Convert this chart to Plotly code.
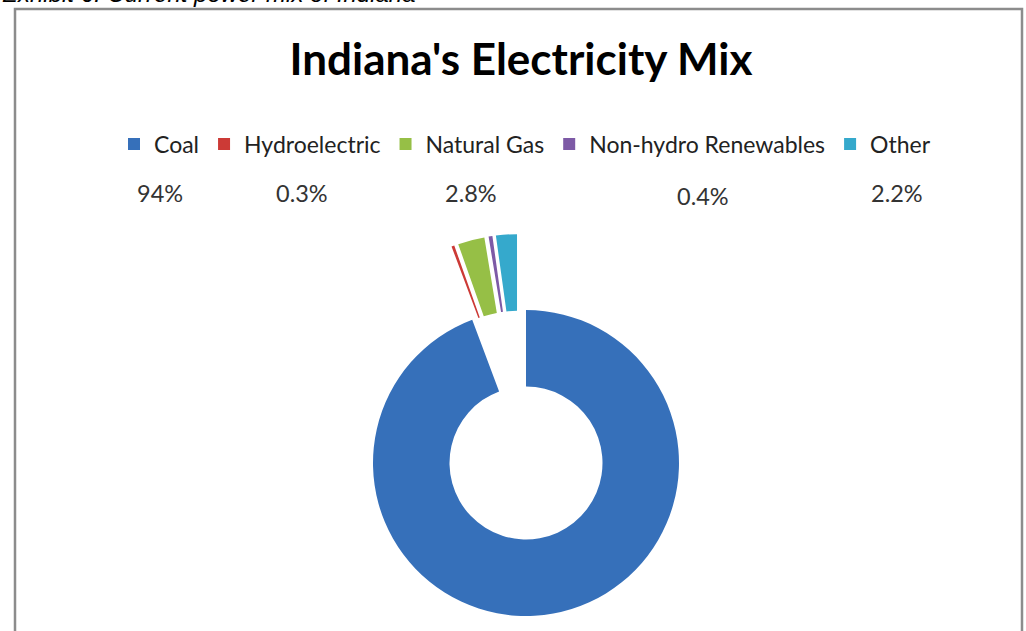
import math
import plotly.graph_objects as go

# ---- data ----
sources = ["Coal", "Hydroelectric", "Natural Gas", "Non-hydro Renewables", "Other"]
shares = [94, 0.3, 2.8, 0.4, 2.2]
colors = ["#3670ba", "#cc3a36", "#96bf46", "#7d5aa6", "#35a9cc"]
pct_labels = [f"{v:g}%" for v in shares]

W, H = 1026, 631

# ---- geometry (pixels) ----
cx, cy, R = 526, 463, 153
hole = 0.5
pull_small = 0.28
target_pull = 0.5


def dom(centerx, centery, half):
    return dict(x=[(centerx - half) / W, (centerx + half) / W],
                y=[1 - (centery + half) / H, 1 - (centery - half) / H])


fig = go.Figure()

# main (coal) ring
colsA = [colors[0]] + ["rgba(0,0,0,0)"] * (len(sources) - 1)
fig.add_trace(go.Pie(
    labels=sources, values=shares, sort=False, direction="clockwise", rotation=0,
    hole=hole, marker=dict(colors=colsA, line=dict(width=0)),
    textinfo="none", hoverinfo="label+percent", showlegend=False,
    domain=dom(cx, cy, R),
))

# exploded small slices
total = sum(shares)
small_span = 360 * (total - shares[0]) / total
mid = math.radians(small_span / 2)
shift = (target_pull - pull_small) * R
cxB = cx - shift * math.sin(mid)
cyB = cy - shift * math.cos(mid)
colsB = ["rgba(0,0,0,0)"] + colors[1:]
pulls = [0] + [pull_small] * (len(sources) - 1)
fig.add_trace(go.Pie(
    labels=sources, values=shares, sort=False, direction="clockwise", rotation=0,
    hole=hole, pull=pulls, marker=dict(colors=colsB, line=dict(width=0)),
    textinfo="none", hoverinfo="label+percent", showlegend=False,
    domain=dom(cxB, cyB, R * (1 + pull_small)),
))

# legend entries
for name, c in zip(sources, colors):
    fig.add_trace(go.Scatter(x=[None], y=[None], mode="markers", name=name,
                             marker=dict(symbol="square", size=12, color=c)))

# percentage labels row
pct_x = [160, 302, 471, 703, 897]
pct_y = [193, 193, 193, 196, 193]
for t, px, py in zip(pct_labels, pct_x, pct_y):
    fig.add_annotation(text=t, x=px / W, y=1 - py / H, xref="paper", yref="paper",
                       showarrow=False, xanchor="center", yanchor="middle",
                       font=dict(family="Lato", size=23.5, color="#333333"))

# exhibit caption (cut off at top)
fig.add_annotation(text="Exhibit 6: Current power mix of Indiana", x=0, y=1,
                   xref="paper", yref="paper", xanchor="left", yanchor="bottom",
                   yshift=-9.5, showarrow=False,
                   font=dict(family="Liberation Sans", size=24, color="#000000",
                             style="italic"))

# chart frame
fig.add_shape(type="rect", xref="paper", yref="paper",
              x0=15 / W, x1=1022 / W, y0=-0.2, y1=1 - 9 / H,
              line=dict(color="#8c8c8c", width=2.5), fillcolor="rgba(0,0,0,0)")

fig.update_layout(
    width=W, height=H,
    margin=dict(l=0, r=0, t=0, b=0),
    paper_bgcolor="white", plot_bgcolor="white",
    xaxis=dict(visible=False), yaxis=dict(visible=False),
    title=dict(text="Indiana's Electricity Mix", x=521 / W, xanchor="center",
               y=1 - 60 / H, yanchor="middle", yref="paper",
               font=dict(family="Lato", size=44, color="#000000", weight="bold")),
    legend=dict(orientation="h", x=525 / W, xanchor="center", y=1 - 144 / H,
                yanchor="middle", font=dict(family="Lato", size=23, color="#222222"),
                itemclick=False, bgcolor="rgba(0,0,0,0)"),
)

fig.write_html("out.html")
